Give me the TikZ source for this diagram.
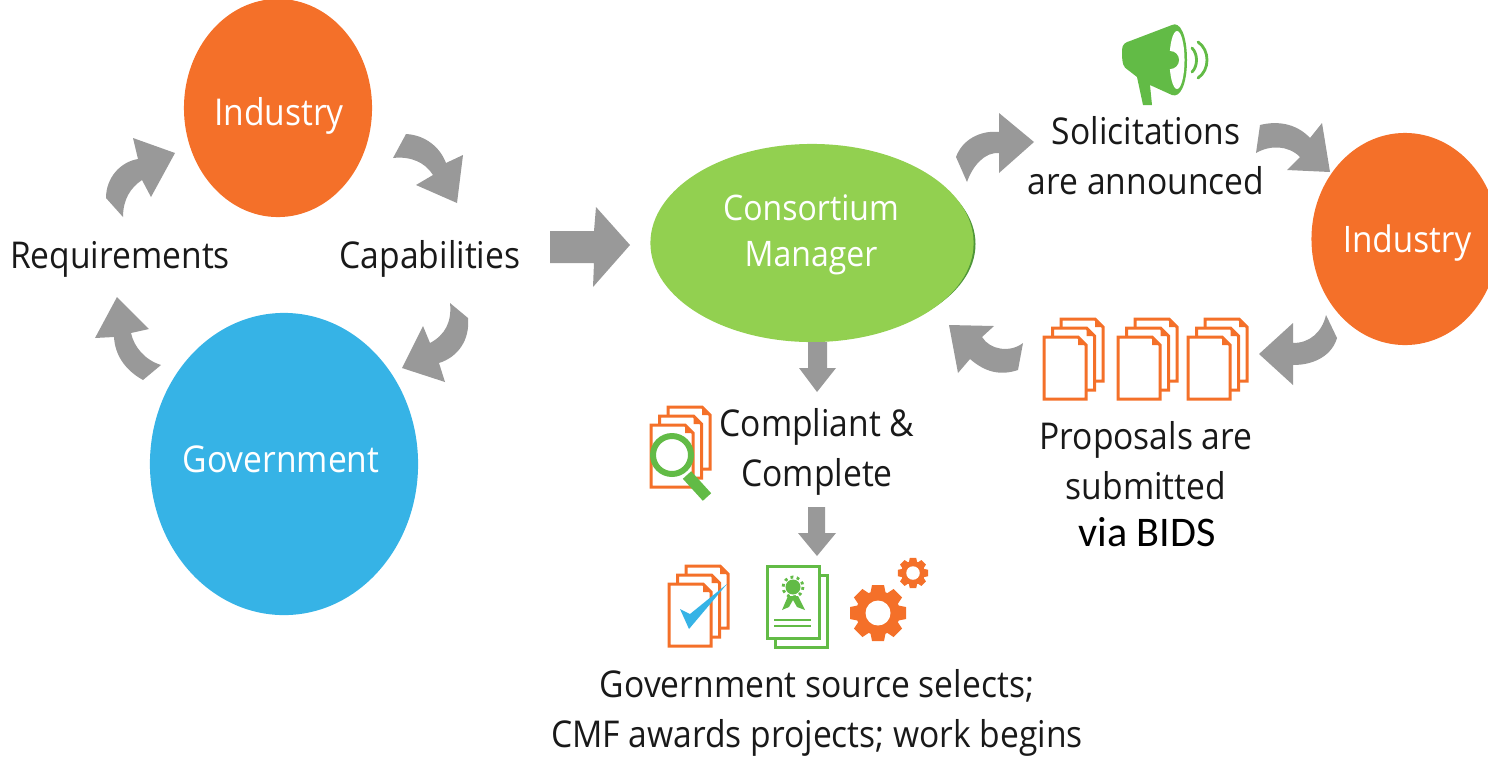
\documentclass[tikz,border=0pt]{standalone}
\usepackage{fontspec}
\setmainfont[FakeStretch=0.91]{Open Sans}
\newfontfamily\bidsfont{Carlito}
\usetikzlibrary{shapes.geometric}
\definecolor{flowgrey}{HTML}{999999}
\definecolor{indorange}{HTML}{F47029}
\definecolor{govblue}{HTML}{36B3E6}
\definecolor{cmgreen}{HTML}{92D050}
\definecolor{icongreen}{HTML}{62BB46}
\tikzset{
  flowarrow/.style={fill=flowgrey},
  party/.style={ellipse,inner sep=0pt},
  partytext/.style={inner sep=0pt,text=white,align=center},
  label/.style={inner sep=0pt,text=black!90,align=center,font=\fontsize{10.5}{14.2}\selectfont},
  pics/page/.style={code={
    \filldraw[fill=white,draw=indorange,line width=0.85pt] (0,0) -- (34,0) -- (42,8) -- (42,62) -- (0,62) -- cycle;
    \fill[indorange] (34,0) -- (34,8) -- (42,8) -- cycle;
  }},
  pics/docstack/.style={code={
    \pic at (17,-18) {page};
    \pic at (8.5,-9) {page};
    \pic at (0,0) {page};
  }},
  pics/gearwheel/.style={code={
    \fill[indorange] (0,0) circle [radius=22];
    \foreach \a in {0,45,...,315}
      \fill[indorange,rotate=\a] (-6,-28) -- (6,-28) -- (8,-18) -- (-8,-18) -- cycle;
    \fill[white] (0,0) circle [radius=12.5];
  }},
}

\begin{document}
\begin{tikzpicture}[x=0.01cm,y=-0.01cm,line cap=butt]
  \useasboundingbox (0,0) rectangle (1488,757);
  \clip (0,0) rectangle (1488,757);

  % parties
  \node[party,fill=indorange,minimum width=1.88cm,minimum height=2.18cm] (industryA) at (278,108) {};
  \node[party,fill=govblue,minimum width=2.68cm,minimum height=3.02cm] (government) at (284,464) {};
  \fill[icongreen!80!black] (814,244) ellipse [x radius=161.5,y radius=95];
  \node[party,fill=cmgreen,minimum width=3.23cm,minimum height=1.98cm] (manager) at (812,243) {};
  \node[party,fill=indorange,minimum width=1.87cm,minimum height=2.12cm] (industryB) at (1405,239) {};

  \node[partytext,font=\fontsize{10.5}{13}\selectfont] (industryAtext) at (279,116) {Industry};
  \node[partytext,font=\fontsize{10.5}{13}\selectfont] (governmenttext) at (281,459) {Government};
  \node[partytext,font=\fontsize{10}{13.1}\selectfont] (managertext) at (811,235) {Consortium\\Manager};
  \node[partytext,font=\fontsize{10.4}{13}\selectfont] (industryBtext) at (1407,243) {Industry};

  % labels
  \node[label] (requirements) at (120,259) {Requirements};
  \node[label] (capabilities) at (430,259) {Capabilities};
  \node[label] (solicitations) at (1146,156) {Solicitations\\are announced};
  \node[label] (compliant) at (817,452) {Compliant \&\\Complete};
  \node[label] (proposals) at (1146,461) {Proposals are\\submitted};
  \node[inner sep=0pt,font=\bidsfont\fontsize{12}{14}\selectfont] (bids) at (1147,532) {via BIDS};
  \node[label] (selects) at (817,713) {Government source selects;\\CMF awards projects; work begins};

  % left cycle
  \fill[flowarrow] (175,153) -- (133,138) -- (138,159) .. controls (120,162) and (106,178) .. (106,198)
    -- (123,217) .. controls (123,200) and (130,188) .. (142,180) -- (151,197) -- cycle;
  \fill[flowarrow] (393,158) -- (406,134) .. controls (425,135) and (440,147) .. (446,163) -- (463,155)
    -- (457,203) -- (416,185) -- (433,175) .. controls (425,162) and (410,156) .. cycle;
  \fill[flowarrow] (450,303) -- (468,318) .. controls (470,340) and (458,357) .. (439,363) -- (445,382)
    -- (402,368) -- (423,326) -- (430,343) .. controls (445,335) and (452,322) .. cycle;
  \fill[flowarrow] (161,365) -- (143,380) .. controls (125,370) and (115,355) .. (114,337) -- (95,338)
    -- (117,297) -- (149,329) -- (131,333) .. controls (134,347) and (145,360) .. cycle;

  % straight arrows
  \fill[flowarrow] (550,231) -- (594,231) -- (596,207) -- (630,245) -- (593,287) -- (594,263) -- (550,263) -- cycle;
  \fill[flowarrow] (808,342) -- (827,342) -- (827,368) -- (836,368) -- (817,392) -- (799,368) -- (808,368) -- cycle;
  \fill[flowarrow] (808,507) -- (825,507) -- (825,533) -- (836,533) -- (817,556) -- (798,533) -- (808,533) -- cycle;

  % right cycle
  \fill[flowarrow] (967,182) -- (956,157) .. controls (962,140) and (980,130) .. (999,132) -- (999,113)
    -- (1034,142) -- (999,173) -- (999,153) .. controls (985,152) and (973,165) .. cycle;
  \fill[flowarrow] (1256,153) -- (1260,125) .. controls (1280,120) and (1298,125) .. (1310,138) -- (1322,123)
    -- (1330,172) -- (1287,170) -- (1300,157) .. controls (1288,145) and (1270,145) .. cycle;
  \fill[flowarrow] (1259,354) -- (1293,323) -- (1293,343) .. controls (1310,343) and (1322,332) .. (1326,315)
    -- (1337,338) .. controls (1332,355) and (1315,365) .. (1293,365) -- (1293,385) -- cycle;
  \fill[flowarrow] (949,325) -- (994,326) -- (982,337) .. controls (990,350) and (1010,353) .. (1023,343)
    -- (1018,370) .. controls (1000,376) and (985,372) .. (970,359) -- (958,373) -- cycle;

  % megaphone
  \fill[icongreen] (1122,50) .. controls (1122,44) and (1126,42) .. (1130,41) -- (1172,25)
    .. controls (1180,21) and (1187,35) .. (1187,60) .. controls (1187,85) and (1180,98) .. (1172,95)
    -- (1150,85) -- (1152,105) -- (1143,105) -- (1137,77) -- (1128,70) .. controls (1123,67) and (1122,64) .. cycle;
  \fill[white] (1177,60) ellipse [x radius=7.5,y radius=29];
  \fill[icongreen] (1170,60) circle [radius=9];
  \draw[icongreen,line width=0.8pt,line cap=round] (1192,48) .. controls (1198,54) and (1198,66) .. (1192,72);
  \draw[icongreen,line width=0.8pt,line cap=round] (1198,42) .. controls (1210,50) and (1210,70) .. (1198,78);

  % proposals
  \foreach \x in {1044,1118,1188}
    \pic at (\x,337) {docstack};

  % compliant check
  \pic at (651,425) {docstack};
  \draw[icongreen,line width=1.7pt] (672,455) circle [radius=19];
  \draw[icongreen,line width=3.2pt] (687,475) -- (707,497);

  % source selection
  \pic at (669,584) {docstack};
  \fill[govblue] (680,609) -- (690,614) -- (727,584) -- (689,629) -- cycle;
  \filldraw[fill=white,draw=icongreen,line width=0.85pt] (775,575) rectangle (827,647);
  \filldraw[fill=white,draw=icongreen,line width=0.85pt] (767,566) rectangle (819,638);
  \fill[icongreen] (793,587) circle [radius=7.5];
  \draw[icongreen,line width=0.8pt,densely dotted] (793,587) circle [radius=10];
  \fill[icongreen] (788,596) -- (782,610) -- (789,607) -- (793,600) -- (797,607) -- (805,610) -- (798,596) -- cycle;
  \draw[icongreen,line width=0.6pt] (774,620) -- (811,620);
  \draw[icongreen,line width=0.6pt] (774,626) -- (811,626);
  \pic at (878,613) {gearwheel};
  \pic[scale=0.54] at (913,573) {gearwheel};
\end{tikzpicture}
\end{document}
